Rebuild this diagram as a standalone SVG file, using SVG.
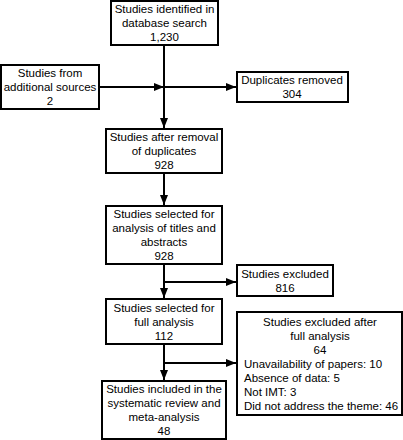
<svg xmlns="http://www.w3.org/2000/svg" width="403" height="440" viewBox="0 0 403 440">
<style>
.box{fill:#fff;stroke:#000;stroke-width:2}
.t{font-family:"Liberation Sans",Arial,sans-serif;font-size:11.5px;fill:#000;text-anchor:middle}
.l{text-anchor:start}
.c{stroke:#000;stroke-width:2;fill:none}
</style>
<defs>
<marker id="ah" markerUnits="userSpaceOnUse" markerWidth="10" markerHeight="8" refX="10" refY="4" orient="auto">
<path d="M0,0 L10,4 L0,8 z" fill="#000"/>
</marker>
</defs>
<rect width="403" height="440" fill="#fff"/>
<g id="connectors">
<line class="c" x1="164" y1="45" x2="164" y2="128" marker-end="url(#ah)"/>
<line class="c" x1="99" y1="87" x2="164" y2="87" marker-end="url(#ah)"/>
<line class="c" x1="164" y1="87" x2="236" y2="87" marker-end="url(#ah)"/>
<line class="c" x1="164" y1="173" x2="164" y2="205" marker-end="url(#ah)"/>
<line class="c" x1="164" y1="264" x2="164" y2="298" marker-end="url(#ah)"/>
<line class="c" x1="164" y1="282" x2="236" y2="282" marker-end="url(#ah)"/>
<line class="c" x1="164" y1="344" x2="164" y2="380" marker-end="url(#ah)"/>
<line class="c" x1="164" y1="363" x2="236" y2="363" marker-end="url(#ah)"/>
</g>
<g id="n1">
<rect class="box" x="111" y="1" width="107" height="44"/>
<text class="t" x="164.5" y="13">Studies identified in</text>
<text class="t" x="164.5" y="27">database search</text>
<text class="t" x="164.5" y="41">1,230</text>
</g>
<g id="n2">
<rect class="box" x="1" y="65" width="98" height="44"/>
<text class="t" x="50" y="77">Studies from</text>
<text class="t" x="50" y="91">additional sources</text>
<text class="t" x="50" y="105">2</text>
</g>
<g id="n3">
<rect class="box" x="237" y="72" width="111" height="30"/>
<text class="t" x="292" y="84">Duplicates removed</text>
<text class="t" x="292" y="98">304</text>
</g>
<g id="n4">
<rect class="box" x="106" y="129" width="116" height="44"/>
<text class="t" x="164" y="141">Studies after removal</text>
<text class="t" x="164" y="155">of duplicates</text>
<text class="t" x="164" y="169">928</text>
</g>
<g id="n5">
<rect class="box" x="106" y="206" width="116" height="58"/>
<text class="t" x="164" y="218">Studies selected for</text>
<text class="t" x="164" y="232">analysis of titles and</text>
<text class="t" x="164" y="246">abstracts</text>
<text class="t" x="164" y="260">928</text>
</g>
<g id="n6">
<rect class="box" x="237" y="265" width="96" height="31"/>
<text class="t" x="285" y="277.5">Studies excluded</text>
<text class="t" x="285" y="291.5">816</text>
</g>
<g id="n7">
<rect class="box" x="106" y="299" width="116" height="45"/>
<text class="t" x="164" y="311.5">Studies selected for</text>
<text class="t" x="164" y="325.5">full analysis</text>
<text class="t" x="164" y="339.5">112</text>
</g>
<g id="n8">
<rect class="box" x="237" y="312" width="165" height="103"/>
<text class="t" x="320" y="325.5">Studies excluded after</text>
<text class="t" x="320" y="339.5">full analysis</text>
<text class="t" x="320" y="353.5">64</text>
<text class="t l" x="244" y="367.5">Unavailability of papers: 10</text>
<text class="t l" x="244" y="381.5">Absence of data: 5</text>
<text class="t l" x="244" y="395.5">Not IMT: 3</text>
<text class="t l" x="244" y="409.5">Did not address the theme: 46</text>
</g>
<g id="n9">
<rect class="box" x="102" y="381" width="124" height="58"/>
<text class="t" x="164" y="393">Studies included in the</text>
<text class="t" x="164" y="407">systematic review and</text>
<text class="t" x="164" y="421">meta-analysis</text>
<text class="t" x="164" y="435">48</text>
</g>
</svg>
